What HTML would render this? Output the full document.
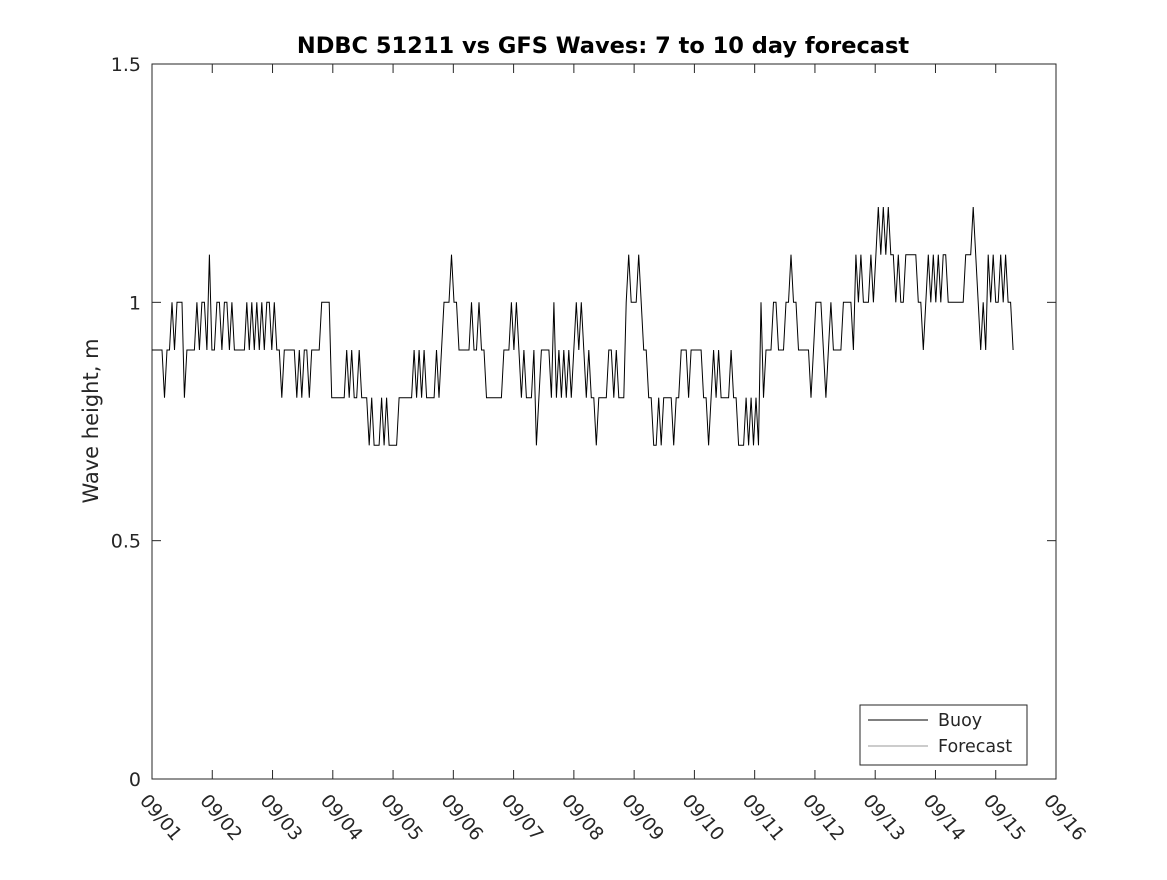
<!DOCTYPE html>
<html><head><meta charset="utf-8"><style>
body{margin:0;background:#fff;}
svg text{font-family:"DejaVu Sans","Liberation Sans",sans-serif;fill:#262626;}
</style></head><body>
<svg id="c" width="1167" height="875" xmlns="http://www.w3.org/2000/svg">
<rect width="1167" height="875" fill="#fff"/>
<text x="603" y="53" text-anchor="middle" font-size="22.5" font-weight="bold" style="fill:#000">NDBC 51211 vs GFS Waves: 7 to 10 day forecast</text>
<rect x="152" y="64" width="904" height="715" fill="none" stroke="#262626" stroke-width="1"/>
<g id="axes"></g>
<g id="series"></g>
<text transform="translate(98,421) rotate(-90)" text-anchor="middle" font-size="21">Wave height, m</text>
<g>
<rect x="860" y="705" width="167" height="60" fill="#fff" stroke="#262626"/>
<line x1="868" y1="720" x2="928" y2="720" stroke="#000"/>
<text x="938" y="726" font-size="17.5">Buoy</text>
<line x1="868" y1="746" x2="928" y2="746" stroke="#777" stroke-width="0.7"/>
<text x="938" y="752" font-size="17.5">Forecast</text>
</g>
</svg>
<script>
const xTickLabels=["09/01","09/02","09/03","09/04","09/05","09/06","09/07","09/08","09/09","09/10","09/11","09/12","09/13","09/14","09/15","09/16"];
const yTicks=[0,0.5,1,1.5];
const yTickLabels=["0","0.5","1","1.5"];
// hourly buoy wave heights starting 09/01 00:00
const buoyValues=[
.9,.9,.9,.9,.9,.8,.9,.9,1,.9,1,1,1,.8,.9,.9,.9,.9,1,.9,1,1,.9,1.1,.9,.9,1,1,.9,1,1,.9,1,.9,
.9,.9,.9,.9,1,.9,1,.9,1,.9,1,.9,1,1,.9,1,.9,.9,.8,.9,.9,.9,.9,.9,.8,.9,.8,.9,.9,.8,.9,.9,.9,.9,
1,1,1,1,.8,.8,.8,.8,.8,.8,.9,.8,.9,.8,.8,.9,.8,.8,.8,.7,.8,.7,.7,.7,.8,.7,.8,.7,.7,.7,.7,
.8,.8,.8,.8,.8,.8,.9,.8,.9,.8,.9,.8,.8,.8,.8,.9,.8,.9,1,1,1,1.1,1,1,.9,.9,.9,.9,.9,
1,.9,.9,1,.9,.9,.8,.8,.8,.8,.8,.8,.8,.9,.9,.9,1,.9,1,.9,.8,.9,.8,.8,.8,.9,.7,.8,.9,.9,.9,.9,
.8,1,.8,.9,.8,.9,.8,.9,.8,.9,1,.9,1,.9,.8,.9,.8,.8,.7,.8,.8,.8,.8,.9,.9,.8,.9,.8,.8,.8,
1,1.1,1,1,1,1.1,1,.9,.9,.8,.8,.7,.7,.8,.7,.8,.8,.8,.8,.7,.8,.8,.9,.9,.9,.8,.9,.9,.9,.9,.9,
.8,.8,.7,.8,.9,.8,.9,.8,.8,.8,.8,.9,.8,.8,.7,.7,.7,.8,.7,.8,.7,.8,.7,1,.8,.9,.9,.9,1,1,.9,
.9,.9,1,1,1.1,1,1,.9,.9,.9,.9,.9,.8,.9,1,1,1,.9,.8,.9,1,.9,.9,.9,.9,1,1,1,1,.9,1.1,1,1.1,1,
1,1,1.1,1,1.1,1.2,1.1,1.2,1.1,1.2,1.1,1.1,1,1.1,1,1,1.1,1.1,1.1,1.1,1.1,1,1,.9,1,1.1,1,1.1,1,
1.1,1,1.1,1.1,1,1,1,1,1,1,1,1.1,1.1,1.1,1.2,1.1,1,.9,1,.9,1.1,1,1.1,1,1,1.1,1,1.1,1,1,.9
];
const X0=152,X1=1056,Y0=779,Y1=64;
const xDay=d=>X0+(X1-X0)*d/15;
const yVal=v=>Y0-(Y0-Y1)*v/1.5;
const HOURS_PER_STEP=0.994;
const NS="http://www.w3.org/2000/svg";
const ax=document.getElementById('axes');
function mk(t,a,p){const e=document.createElementNS(NS,t);for(const k in a)e.setAttribute(k,a[k]);p.appendChild(e);return e;}
xTickLabels.forEach((lab,i)=>{
  const x=xDay(i);
  const t1=mk('line',{x1:x,y1:Y0,x2:x,y2:Y0-9,stroke:'#262626'},ax);
  
  
  const t2=mk('line',{x1:x,y1:Y1,x2:x,y2:Y1+9,stroke:'#262626'},ax);
  
  
  const tx=mk('text',{x:0,y:0,'font-size':18.5,transform:`translate(${x-13},${Y0+22}) rotate(50)`},ax);
  tx.textContent=lab;
  
  
});
yTicks.forEach((v,i)=>{
  const y=yVal(v);
  const t1=mk('line',{x1:X0,y1:y,x2:X0+9,y2:y,stroke:'#262626'},ax);
  
  
  const t2=mk('line',{x1:X1,y1:y,x2:X1-9,y2:y,stroke:'#262626'},ax);
  
  
  const tx=mk('text',{x:X0-11,y:y+7,'text-anchor':'end','font-size':19},ax);
  tx.textContent=yTickLabels[i];
  
  
});
const pts=buoyValues.map((v,h)=>xDay(h*HOURS_PER_STEP/24).toFixed(1)+','+yVal(v).toFixed(1)).join(' ');
const pl=mk('polyline',{points:pts,fill:'none',stroke:'#000','stroke-width':1},document.getElementById('series'));


</script>
</body></html>
